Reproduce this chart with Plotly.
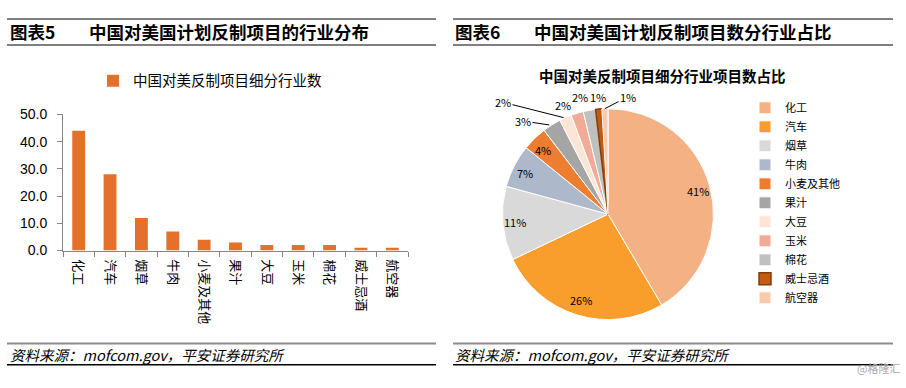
import math
import plotly.graph_objects as go

# ---- data ----
categories = ["化工", "汽车", "烟草", "牛肉", "小麦及其他", "果汁", "大豆", "玉米", "棉花", "威士忌酒", "航空器"]
counts = [44, 28, 12, 7, 4, 3, 2, 2, 2, 1, 1]
pct_labels = ["41%", "26%", "11%", "7%", "4%", "3%", "2%", "2%", "2%", "1%", "1%"]
y_ticks = [0, 10, 20, 30, 40, 50]

bar_series_name = "中国对美反制项目细分行业数"
pie_title = "中国对美反制项目细分行业项目数占比"
title_left = ("图表5", "中国对美国计划反制项目的行业分布")
title_right = ("图表6", "中国对美国计划反制项目数分行业占比")
source_text = "资料来源：mofcom.gov，平安证券研究所"
watermark = "@格隆汇"

# ---- styles / layout ----
pie_colors = ["#F4B183", "#F99D2C", "#D9D9D9", "#ADB9CA", "#ED7D31", "#A5A5A5",
              "#FBE5D6", "#F1AB96", "#C0C0C0", "#C55A11", "#F8CBAD"]
pie_line_colors = ["#FFFFFF"] * 9 + ["#843C0C", "#FFFFFF"]
n_inside = 5
inside_frac = 0.85
# label positions (px) for the small outside slices, and whether a leader line is drawn
outside_label_pos = [(523, 118), (503, 99), (563, 102), (580, 93), (598, 93), (628, 93)]
outside_leader = [True, True, False, False, False, True]

W, H = 906, 388
FONT = "Noto Sans CJK SC, Arial, sans-serif"
PIE_CX, PIE_CY, PIE_R = 608, 215, 110


def px(x):
    return x / W


def py(y):
    return 1 - y / H


fig = go.Figure()

fig.add_trace(go.Bar(
    x=categories, y=counts, name=bar_series_name,
    marker=dict(color="#E4712B", line=dict(width=0)),
    showlegend=True, legend="legend",
))

fig.add_trace(go.Pie(
    labels=categories, values=counts, sort=False, direction="clockwise", rotation=0,
    textinfo="none",
    marker=dict(colors=pie_colors,
                line=dict(color=pie_line_colors, width=[1] * 9 + [1.5, 1])),
    domain=dict(x=[px(PIE_CX - PIE_R), px(PIE_CX + PIE_R)],
                y=[py(PIE_CY + PIE_R), py(PIE_CY - PIE_R)]),
    legend="legend2", showlegend=True,
    hoverinfo="label+value+percent",
))

fig.update_layout(
    width=W, height=H,
    margin=dict(l=0, r=0, t=0, b=0),
    paper_bgcolor="white", plot_bgcolor="white",
    font=dict(family=FONT, color="#000000"),
    bargap=0.59,
    xaxis=dict(
        domain=[px(63), px(408)],
        showline=True, linecolor="#868686", linewidth=1,
        ticks="outside", ticklen=5, tickcolor="#868686", tickson="boundaries",
        ticklabelstandoff=5,
        tickangle=90, tickfont=dict(size=13, family=FONT, color="#000000"),
        showgrid=False, zeroline=False, fixedrange=True,
    ),
    yaxis=dict(
        domain=[py(253), py(111)],
        range=[0, 50], tickvals=y_ticks, tickformat=".1f",
        showline=True, linecolor="#868686", linewidth=1,
        ticks="outside", ticklen=5, tickcolor="#868686", ticklabelstandoff=7,
        tickfont=dict(size=14, family="Liberation Sans, Arial, sans-serif", color="#000000"),
        showgrid=False, zeroline=False, fixedrange=True,
    ),
    legend=dict(
        x=px(93), y=py(76), xanchor="left", yanchor="middle",
        orientation="h", font=dict(size=14.5, family=FONT, color="#000000"),
        bgcolor="rgba(0,0,0,0)",
    ),
    legend2=dict(
        x=px(745), y=py(89), xanchor="left", yanchor="top",
        orientation="v", font=dict(size=11, family=FONT, color="#000000"),
        bgcolor="rgba(0,0,0,0)", tracegroupgap=0,
    ),
)

shapes = []
for (x0, x1) in [(7, 436), (453, 893)]:
    shapes.append(dict(type="line", xref="paper", yref="paper", x0=px(x0), x1=px(x1),
                       y0=py(11.5), y1=py(11.5), line=dict(color="#000000", width=1)))
    shapes.append(dict(type="line", xref="paper", yref="paper", x0=px(x0), x1=px(x1),
                       y0=py(38.5), y1=py(38.5), line=dict(color="#7F7F7F", width=2)))
    shapes.append(dict(type="line", xref="paper", yref="paper", x0=px(x0), x1=px(x1),
                       y0=py(350), y1=py(350), line=dict(color="#8C8C8C", width=2)))
    shapes.append(dict(type="line", xref="paper", yref="paper", x0=px(x0), x1=px(x1),
                       y0=py(372), y1=py(372), line=dict(color="#000000", width=1.5)))
fig.update_layout(shapes=shapes)

ann = []
for (xa, xb, (lab, txt)) in [(8, 87, title_left), (453, 532, title_right)]:
    ann.append(dict(xref="paper", yref="paper", x=px(xa), y=py(25), xanchor="left", yanchor="middle",
                    text="<b>" + lab + "</b>", showarrow=False,
                    font=dict(size=17.5, family=FONT, color="#000000")))
    ann.append(dict(xref="paper", yref="paper", x=px(xb), y=py(25), xanchor="left", yanchor="middle",
                    text="<b>" + txt + "</b>", showarrow=False,
                    font=dict(size=17.5, family=FONT, color="#000000")))
for xs in [8, 453]:
    ann.append(dict(xref="paper", yref="paper", x=px(xs), y=py(361), xanchor="left", yanchor="middle",
                    text=source_text, showarrow=False,
                    font=dict(size=14.5, family=FONT, color="#000000", style="italic")))
ann.append(dict(xref="paper", yref="paper", x=px(662), y=py(70), xanchor="center", yanchor="middle",
                text="<b>" + pie_title + "</b>", showarrow=False,
                font=dict(size=14.5, family=FONT, color="#000000")))
ann.append(dict(xref="paper", yref="paper", x=px(902), y=py(376), xanchor="right", yanchor="middle",
                text=watermark, showarrow=False,
                font=dict(size=11, family=FONT, color="#AAAAAA")))

# percentage labels positioned from each slice's mid-angle (computed from the data)
total = sum(counts)
cum = 0
for i, v in enumerate(counts):
    mid = (cum + v / 2) / total * 2 * math.pi
    cum += v
    if i < n_inside:
        lx = PIE_CX + inside_frac * PIE_R * math.sin(mid)
        ly = PIE_CY - inside_frac * PIE_R * math.cos(mid)
        ann.append(dict(xref="paper", yref="paper", x=px(lx), y=py(ly),
                        xanchor="center", yanchor="middle", text=pct_labels[i], showarrow=False,
                        font=dict(size=11, family=FONT, color="#000000")))
        continue
    tx = PIE_CX + PIE_R * math.sin(mid)
    ty = PIE_CY - PIE_R * math.cos(mid)
    lx, ly = outside_label_pos[i - n_inside]
    ann.append(dict(
        xref="paper", yref="paper", x=px(tx), y=py(ty),
        ax=lx - tx, ay=ly - ty, axref="pixel", ayref="pixel",
        text=pct_labels[i], showarrow=True, arrowhead=0, standoff=0,
        arrowwidth=1,
        arrowcolor="#000000" if outside_leader[i - n_inside] else "rgba(0,0,0,0)",
        font=dict(size=11, family=FONT, color="#000000"),
    ))
fig.update_layout(annotations=ann)

fig.write_html(
    "out.html",
    config={"displayModeBar": False},
    post_script="document.body.style.margin='0';window.dispatchEvent(new Event('resize'));",
)
